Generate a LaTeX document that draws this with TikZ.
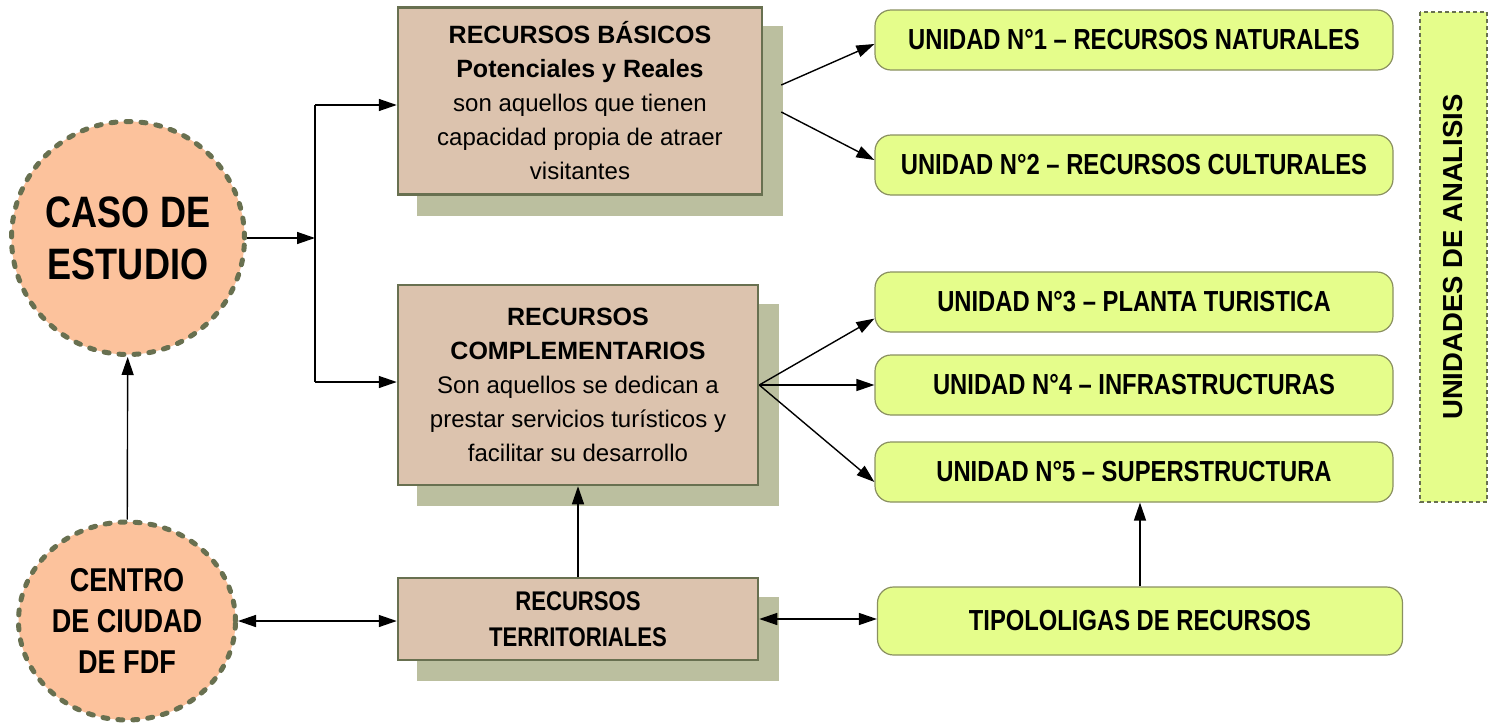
\documentclass[tikz,border=0pt]{standalone}
\usepackage{fontspec}
\setmainfont{Liberation Sans}
\newfontfamily\narrowfont{Liberation Sans}[FakeStretch=0.82]
\usetikzlibrary{positioning, shapes.geometric, arrows.meta, backgrounds}

\definecolor{peach}{HTML}{FCC29C}
\definecolor{olivedark}{HTML}{687050}
\definecolor{boxtan}{HTML}{DCC3AE}
\definecolor{shadowgreen}{HTML}{BBBF9F}
\definecolor{limefill}{HTML}{E5FD8B}
\definecolor{limeline}{HTML}{8A9060}

\begin{document}
\begin{tikzpicture}[
    x=1pt, y=-1pt, % one unit = one pixel of the layout
    line width=1.4pt,
    >={Triangle[length=18pt, width=12pt]},
    study/.style={circle, draw=olivedark, fill=peach, line width=5pt,
      dash pattern=on 5pt off 10pt, line cap=round, align=center,
      inner sep=0pt, font=\narrowfont\bfseries\fontsize{44}{52}\selectfont},
    resource/.style={rectangle, draw=olivedark, fill=boxtan, line width=2.5pt,
      align=center, inner sep=0pt, font=\fontsize{24}{34}\selectfont},
    boxshadow/.style={fill=shadowgreen},
    unit/.style={rectangle, rounded corners=16pt, draw=limeline, fill=limefill,
      line width=1.2pt, minimum width=518pt, minimum height=60pt,
      font=\narrowfont\bfseries\fontsize{29}{34}\selectfont}]

  \useasboundingbox (0,0) rectangle (1494,723);

  % Left column: study case and city centre
  \node (caso) [study, minimum size=233pt] at (128,238) {CASO DE\\ESTUDIO};
  \node (centro) [study, ellipse, minimum width=217pt, minimum height=198pt,
    font=\narrowfont\bfseries\fontsize{33}{41}\selectfont] at (127,621)
    {CENTRO\\DE CIUDAD\\DE FDF};

  % Middle column: resource boxes
  \node (basicos) [resource, minimum width=364pt, minimum height=187pt] at (580,101)
    {{\fontsize{25}{35}\selectfont\bfseries RECURSOS BÁSICOS}\\
     {\fontsize{25}{35}\selectfont\bfseries Potenciales y Reales}\\
     son aquellos que tienen\\ capacidad propia de atraer\\ visitantes};
  \node (complem) [resource, minimum width=360pt, minimum height=200pt] at (578,385)
    {{\fontsize{25}{35}\selectfont\bfseries RECURSOS}\\
     {\fontsize{25}{35}\selectfont\bfseries COMPLEMENTARIOS}\\
     Son aquellos se dedican a\\ prestar servicios turísticos y\\ facilitar su desarrollo};
  \node (terr) [resource, minimum width=360pt, minimum height=82pt,
    font=\narrowfont\bfseries\fontsize{27}{36}\selectfont] at (578,619)
    {RECURSOS\\TERRITORIALES};

  % Shadows behind the resource boxes
  \begin{scope}[on background layer]
    \foreach \res in {basicos, complem, terr}
      \fill [boxshadow] ([shift={(20pt,-20pt)}]\res.south west)
        rectangle ([shift={(20pt,-20pt)}]\res.north east);
  \end{scope}

  % Right column: analysis units
  \node (u1) [unit] at (1134,40) {UNIDAD N°1 – RECURSOS NATURALES};
  \node (u2) [unit] at (1134,165) {UNIDAD N°2 – RECURSOS CULTURALES};
  \node (u3) [unit] at (1134,302) {UNIDAD N°3 – PLANTA TURISTICA};
  \node (u4) [unit] at (1134,385) {UNIDAD N°4 – INFRASTRUCTURAS};
  \node (u5) [unit] at (1134,472) {UNIDAD N°5 – SUPERSTRUCTURA};
  \node (tipo) [unit, minimum width=525pt, minimum height=68pt] at (1140,621)
    {TIPOLOLIGAS DE RECURSOS};

  % Side label
  \node (analisis) [rectangle, draw=olivedark, fill=limefill, line width=2pt,
    dash pattern=on 4pt off 3pt, rotate=90, minimum width=490pt, minimum height=67pt,
    font=\bfseries\fontsize{27.5}{34}\selectfont] at (1453,257) {UNIDADES DE ANALISIS};

  % Split from the study case
  \coordinate (split) at (315,238);
  \coordinate (splitTop) at (315,105);
  \coordinate (splitBot) at (315,382);
  \draw [->] (caso.east) -- (split);
  \draw (splitTop) -- (splitBot);
  \draw [->] (splitTop) -- (splitTop -| basicos.west);
  \draw [->] (splitBot) -- (splitBot -| complem.west);

  % Basic resources to units 1 and 2
  \draw [->] ([xshift=18pt, yshift=16pt]basicos.east) -- ([yshift=-4pt]u1.west);
  \draw [->] ([xshift=18pt, yshift=-11pt]basicos.east) -- ([yshift=5pt]u2.west);

  % Complementary resources to units 3, 4 and 5
  \draw [->] (complem.east) -- ([yshift=14pt]u3.south west);
  \draw [->] (complem.east) -- (complem.east -| u4.west);
  \draw [->] (complem.east) -- ([yshift=-10pt]u5.west);

  % Bottom row
  \draw [->] (terr) -- (complem);
  \draw [<->] (centro.east) -- (centro.east -| terr.west);
  \draw [<->] (terr.east) -- (terr.east -| tipo.west);
  \draw [->] (tipo.north) -- (tipo.north |- u5.south);
  \draw [->] (centro) -- (caso);
\end{tikzpicture}
\end{document}
